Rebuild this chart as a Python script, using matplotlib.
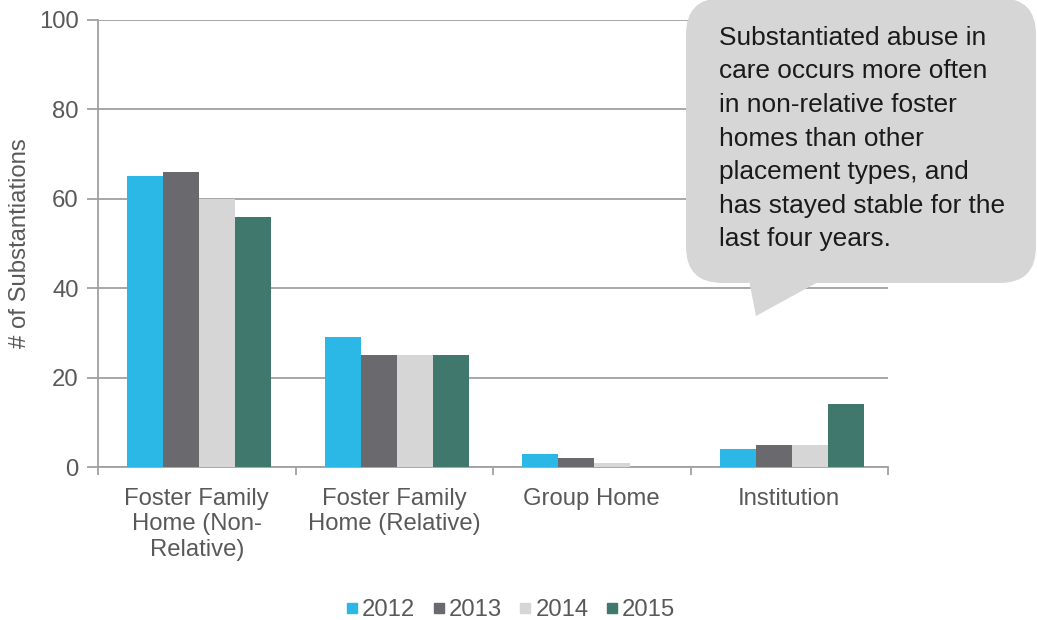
import matplotlib
matplotlib.use("Agg")
import matplotlib.pyplot as plt
import numpy as np
from matplotlib.patches import FancyBboxPatch, Polygon
from matplotlib.lines import Line2D

categories = ["Foster Family\nHome (Non-\nRelative)", "Foster Family\nHome (Relative)", "Group Home", "Institution"]
years = ["2012", "2013", "2014", "2015"]
v2012 = [65, 29, 3, 4]
v2013 = [66, 25, 2, 5]
v2014 = [60, 25, 1, 5]
v2015 = [56, 25, 0, 14]
series = [v2012, v2013, v2014, v2015]
colors = ["#2BB8E6", "#6A696E", "#D6D6D6", "#41786E"]
yticks = [0, 20, 40, 60, 80, 100]
callout_text = ("Substantiated abuse in\ncare occurs more often\nin non-relative foster\n"
                "homes than other\nplacement types, and\nhas stayed stable for the\nlast four years.")

plt.rcParams['font.family'] = ['Liberation Sans', 'DejaVu Sans']
FS = 17.2
TXT = "#595959"
GRID = "#A0A0A0"

W, H = 1037, 620
fig = plt.figure(figsize=(W / 100, H / 100), dpi=100)
ax = fig.add_axes([98 / W, 1 - 467 / H, (888 - 98) / W, (467 - 20) / H])

x = np.arange(len(categories))
bw = 0.182
for i, (vals, c) in enumerate(zip(series, colors)):
    ax.bar(x + (i - 1.5) * bw + 0.012, vals, width=bw, color=c, zorder=3, label=years[i])

ax.set_xlim(-0.5, len(categories) - 0.5)
ax.set_ylim(0, 100)
ax.set_yticks(yticks)
ax.yaxis.grid(True, color=GRID, linewidth=1.3, zorder=0)
ax.set_axisbelow(True)
for s in ["top", "right"]:
    ax.spines[s].set_visible(False)
for s in ["left", "bottom"]:
    ax.spines[s].set_color(GRID)
    ax.spines[s].set_linewidth(1.3)

ax.set_xticks(x)
ax.set_xticklabels(categories, fontsize=FS, color=TXT, linespacing=1.2)
ax.tick_params(axis="x", which="major", length=0, pad=15)
ax.set_xticks(np.arange(-0.5, len(categories)), minor=True)
ax.tick_params(axis="x", which="minor", length=6, color=GRID, width=1.3, direction="out")
ax.tick_params(axis="y", length=8, color=GRID, width=1.3, labelsize=FS, labelcolor=TXT, pad=6)

fig.text(20 / W, 1 - 243 / H, "# of Substantiations", rotation=90, ha="center", va="center",
         fontsize=FS, color=TXT)

handles = [Line2D([], [], marker="s", linestyle="none", markersize=7.5, color=c) for c in colors]
fig.legend(handles, years, loc="center", bbox_to_anchor=(511 / W, 1 - 610 / H), ncol=4,
           frameon=False, fontsize=FS, labelcolor=TXT, handlelength=0.45, handletextpad=0.2,
           columnspacing=0.75)

# Callout bubble
def fx(px):
    return px / W

def fy(py):
    return 1 - py / H

bub_col = "#D6D6D6"
box = FancyBboxPatch((fx(686), fy(283)), fx(1036) - fx(686), fy(-2) - fy(283),
                     boxstyle="round,pad=0,rounding_size=0.035", transform=fig.transFigure,
                     facecolor=bub_col, edgecolor="none", zorder=10, mutation_aspect=W / H)
fig.add_artist(box)
tail = Polygon([(fx(747), fy(270)), (fx(756), fy(316)), (fx(840), fy(270))], closed=True,
               transform=fig.transFigure, facecolor=bub_col, edgecolor="none", zorder=10)
fig.add_artist(tail)
fig.text(fx(719), fy(26), callout_text, ha="left", va="top", fontsize=18.9, color="#1A1A1A",
         linespacing=1.5, zorder=11)

fig.savefig("out.png", dpi=100)
